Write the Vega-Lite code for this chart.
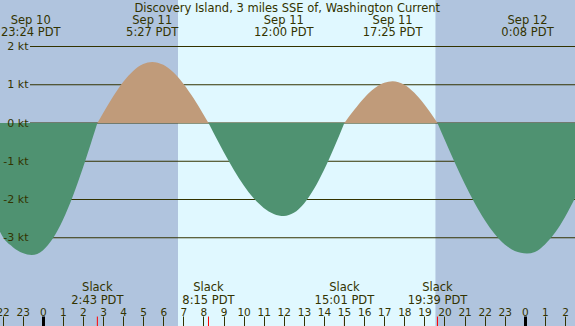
{
  "$schema": "https://vega.github.io/schema/vega-lite/v6.json",
  "width": 575,
  "height": 326,
  "autosize": "none",
  "padding": 0,
  "config": {
    "view": {"fill": "#b0c4de", "stroke": null},
    "font": "DejaVu Sans",
    "text": {"font": "DejaVu Sans", "fontSize": 11.5, "color": "#333300", "align": "center", "baseline": "alphabetic"},
    "axisX": {"tickCount": 29, "tickMinStep": 1, "labelOverlap": false, "labelFlush": false}
  },
  "datasets": {
    "curve": [
      {"h": -2.13, "v": -2.84, "seg": "E1", "kind": "ebb"},
      {"h": -2.0, "v": -2.97, "seg": "E1", "kind": "ebb"},
      {"h": -1.5, "v": -3.24, "seg": "E1", "kind": "ebb"},
      {"h": -1.0, "v": -3.4, "seg": "E1", "kind": "ebb"},
      {"h": -0.55, "v": -3.45, "seg": "E1", "kind": "ebb"},
      {"h": 0.0, "v": -3.33, "seg": "E1", "kind": "ebb"},
      {"h": 0.5, "v": -3.02, "seg": "E1", "kind": "ebb"},
      {"h": 1.0, "v": -2.535, "seg": "E1", "kind": "ebb"},
      {"h": 1.5, "v": -1.91, "seg": "E1", "kind": "ebb"},
      {"h": 2.0, "v": -1.17, "seg": "E1", "kind": "ebb"},
      {"h": 2.5, "v": -0.36, "seg": "E1", "kind": "ebb"},
      {"h": 2.717, "v": 0, "seg": "E1", "kind": "ebb"},
      {"h": 2.717, "v": 0, "seg": "F1", "kind": "flood"},
      {"h": 3.0, "v": 0.258, "seg": "F1", "kind": "flood"},
      {"h": 3.5, "v": 0.694, "seg": "F1", "kind": "flood"},
      {"h": 4.0, "v": 1.073, "seg": "F1", "kind": "flood"},
      {"h": 4.5, "v": 1.363, "seg": "F1", "kind": "flood"},
      {"h": 5.0, "v": 1.542, "seg": "F1", "kind": "flood"},
      {"h": 5.45, "v": 1.595, "seg": "F1", "kind": "flood"},
      {"h": 6.0, "v": 1.52, "seg": "F1", "kind": "flood"},
      {"h": 6.5, "v": 1.326, "seg": "F1", "kind": "flood"},
      {"h": 7.0, "v": 1.029, "seg": "F1", "kind": "flood"},
      {"h": 7.5, "v": 0.652, "seg": "F1", "kind": "flood"},
      {"h": 8.0, "v": 0.223, "seg": "F1", "kind": "flood"},
      {"h": 8.25, "v": 0, "seg": "F1", "kind": "flood"},
      {"h": 8.25, "v": 0, "seg": "E2", "kind": "ebb"},
      {"h": 8.5, "v": -0.254, "seg": "E2", "kind": "ebb"},
      {"h": 9.0, "v": -0.751, "seg": "E2", "kind": "ebb"},
      {"h": 9.5, "v": -1.215, "seg": "E2", "kind": "ebb"},
      {"h": 10.0, "v": -1.626, "seg": "E2", "kind": "ebb"},
      {"h": 10.5, "v": -1.966, "seg": "E2", "kind": "ebb"},
      {"h": 11.0, "v": -2.22, "seg": "E2", "kind": "ebb"},
      {"h": 11.5, "v": -2.377, "seg": "E2", "kind": "ebb"},
      {"h": 12.0, "v": -2.43, "seg": "E2", "kind": "ebb"},
      {"h": 12.5, "v": -2.348, "seg": "E2", "kind": "ebb"},
      {"h": 13.0, "v": -2.108, "seg": "E2", "kind": "ebb"},
      {"h": 13.5, "v": -1.726, "seg": "E2", "kind": "ebb"},
      {"h": 14.0, "v": -1.229, "seg": "E2", "kind": "ebb"},
      {"h": 14.5, "v": -0.646, "seg": "E2", "kind": "ebb"},
      {"h": 15.0, "v": -0.022, "seg": "E2", "kind": "ebb"},
      {"h": 15.017, "v": 0, "seg": "E2", "kind": "ebb"},
      {"h": 15.017, "v": 0, "seg": "F2", "kind": "flood"},
      {"h": 15.5, "v": 0.339, "seg": "F2", "kind": "flood"},
      {"h": 16.0, "v": 0.654, "seg": "F2", "kind": "flood"},
      {"h": 16.5, "v": 0.9, "seg": "F2", "kind": "flood"},
      {"h": 17.0, "v": 1.05, "seg": "F2", "kind": "flood"},
      {"h": 17.417, "v": 1.09, "seg": "F2", "kind": "flood"},
      {"h": 18.0, "v": 1.0, "seg": "F2", "kind": "flood"},
      {"h": 18.5, "v": 0.789, "seg": "F2", "kind": "flood"},
      {"h": 19.0, "v": 0.481, "seg": "F2", "kind": "flood"},
      {"h": 19.5, "v": 0.115, "seg": "F2", "kind": "flood"},
      {"h": 19.65, "v": 0, "seg": "F2", "kind": "flood"},
      {"h": 19.65, "v": 0, "seg": "E3", "kind": "ebb"},
      {"h": 20.0, "v": -0.425, "seg": "E3", "kind": "ebb"},
      {"h": 20.5, "v": -1.019, "seg": "E3", "kind": "ebb"},
      {"h": 21.0, "v": -1.581, "seg": "E3", "kind": "ebb"},
      {"h": 21.5, "v": -2.092, "seg": "E3", "kind": "ebb"},
      {"h": 22.0, "v": -2.537, "seg": "E3", "kind": "ebb"},
      {"h": 22.5, "v": -2.902, "seg": "E3", "kind": "ebb"},
      {"h": 23.0, "v": -3.173, "seg": "E3", "kind": "ebb"},
      {"h": 23.5, "v": -3.345, "seg": "E3", "kind": "ebb"},
      {"h": 24.1, "v": -3.41, "seg": "E3", "kind": "ebb"},
      {"h": 24.5, "v": -3.37, "seg": "E3", "kind": "ebb"},
      {"h": 25.0, "v": -3.175, "seg": "E3", "kind": "ebb"},
      {"h": 25.5, "v": -2.872, "seg": "E3", "kind": "ebb"},
      {"h": 26.0, "v": -2.458, "seg": "E3", "kind": "ebb"},
      {"h": 26.5, "v": -1.96, "seg": "E3", "kind": "ebb"}
    ],
    "daylight": [{"sunrise": 6.733, "sunset": 19.55}],
    "levels": [{"kt": 2}, {"kt": 1}, {"kt": 0}, {"kt": -1}, {"kt": -2}, {"kt": -3}],
    "extremes": [
      {"h": -0.6, "day": "Sep 10", "time": "23:24 PDT"},
      {"h": 5.45, "day": "Sep 11", "time": "5:27 PDT"},
      {"h": 12.0, "day": "Sep 11", "time": "12:00 PDT"},
      {"h": 17.417, "day": "Sep 11", "time": "17:25 PDT"},
      {"h": 24.133, "day": "Sep 12", "time": "0:08 PDT"}
    ],
    "slacks": [
      {"h": 2.717, "time": "2:43 PDT"},
      {"h": 8.25, "time": "8:15 PDT"},
      {"h": 15.017, "time": "15:01 PDT"},
      {"h": 19.65, "time": "19:39 PDT"}
    ],
    "titles": [{"title": "Discovery Island, 3 miles SSE of, Washington Current"}]
  },
  "layer": [
    {
      "data": {"name": "daylight"},
      "mark": {"type": "rect", "color": "#e0f8ff"},
      "encoding": {
        "x": {
          "field": "sunrise", "type": "quantitative", "title": null,
          "scale": {"domain": [-2.1294, 26.4975], "nice": false, "zero": false},
          "axis": {
            "orient": "top", "offset": -326, "title": null,
            "tickCount": 29, "tickMinStep": 1,
            "labelExpr": "'' + ((datum.value + 24) % 24)",
            "domain": false, "grid": false, "ticks": true, "tickSize": 10,
            "tickColor": {"condition": {"test": "datum.value % 24 === 0", "value": "#000000"}, "value": "#333300"},
            "tickWidth": {"condition": {"test": "datum.value % 24 === 0", "value": 3}, "value": 1},
            "labelBaseline": "alphabetic", "labelPadding": 1, "labelAngle": 0,
            "labelFont": "DejaVu Sans", "labelFontSize": 10.5, "labelColor": "#333300",
            "labelOverlap": false, "labelFlush": false, "zindex": 1
          }
        },
        "x2": {"field": "sunset"}
      }
    },
    {
      "data": {"name": "levels"},
      "mark": {"type": "rule", "color": "#333300", "strokeWidth": 1},
      "encoding": {
        "x": {"datum": -0.637, "type": "quantitative", "title": null},
        "x2": {"datum": 26.5},
        "y": {
          "field": "kt", "type": "quantitative", "title": null,
          "scale": {"domain": [-5.307, 3.216], "nice": false, "zero": false},
          "axis": {
            "orient": "left", "offset": -30, "title": null,
            "values": [-3, -2, -1, 0, 1, 2],
            "labelExpr": "datum.value + ' kt'",
            "domain": false, "ticks": false, "tickSize": 0, "grid": false,
            "labelPadding": 2, "labelFont": "DejaVu Sans", "labelFontSize": 11,
            "labelColor": "#333300", "labelFlush": false, "labelOverlap": false, "zindex": 1
          }
        }
      }
    },
    {
      "data": {"name": "curve"},
      "mark": {"type": "area", "interpolate": "monotone", "clip": true},
      "encoding": {
        "x": {"field": "h", "type": "quantitative", "title": null},
        "y": {"field": "v", "type": "quantitative", "stack": null, "title": null},
        "y2": {"datum": 0},
        "color": {
          "field": "kind", "type": "nominal",
          "scale": {"domain": ["ebb", "flood"], "range": ["#4f9271", "#c09b7a"]},
          "legend": null
        },
        "detail": {"field": "seg"}
      }
    },
    {
      "data": {"name": "slacks"},
      "mark": {"type": "rule", "color": "#ff0000", "strokeWidth": 1},
      "encoding": {
        "x": {"field": "h", "type": "quantitative", "title": null},
        "y": {"datum": -5.06, "type": "quantitative", "title": null},
        "y2": {"datum": -5.307}
      }
    },
    {
      "data": {"name": "slacks"},
      "mark": {"type": "text", "text": "Slack"},
      "encoding": {
        "x": {"field": "h", "type": "quantitative", "title": null},
        "y": {"datum": -4.4, "type": "quantitative", "title": null}
      }
    },
    {
      "data": {"name": "slacks"},
      "mark": {"type": "text"},
      "encoding": {
        "x": {"field": "h", "type": "quantitative", "title": null},
        "y": {"datum": -4.732, "type": "quantitative", "title": null},
        "text": {"field": "time"}
      }
    },
    {
      "data": {"name": "extremes"},
      "mark": {"type": "text"},
      "encoding": {
        "x": {"field": "h", "type": "quantitative", "title": null},
        "y": {"datum": 2.589, "type": "quantitative", "title": null},
        "text": {"field": "day"}
      }
    },
    {
      "data": {"name": "extremes"},
      "mark": {"type": "text"},
      "encoding": {
        "x": {"field": "h", "type": "quantitative", "title": null},
        "y": {"datum": 2.275, "type": "quantitative", "title": null},
        "text": {"field": "time"}
      }
    },
    {
      "data": {"name": "titles"},
      "mark": {"type": "text"},
      "encoding": {
        "x": {"datum": 12.174, "type": "quantitative", "title": null},
        "y": {"datum": 2.915, "type": "quantitative", "title": null},
        "text": {"field": "title"}
      }
    }
  ]
}
